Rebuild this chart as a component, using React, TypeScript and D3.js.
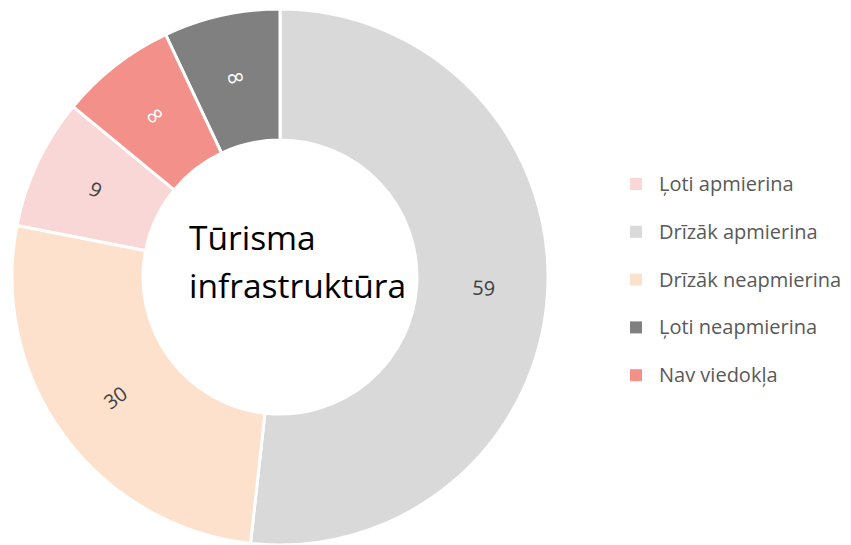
import React, { useEffect, useRef } from 'react';
import * as d3 from 'd3';

// legend order
const categories = ['Ļoti apmierina', 'Drīzāk apmierina', 'Drīzāk neapmierina', 'Ļoti neapmierina', 'Nav viedokļa'];
const values = [9, 59, 30, 8, 8];
const colors = ['#f9d7d6', '#d9d9d9', '#fde1cd', '#808080', '#f3908a'];
const labelColors = ['#404040', '#404040', '#404040', '#ffffff', '#ffffff'];
// order of slices clockwise from 12 o'clock
const sliceOrder = ['Drīzāk apmierina', 'Drīzāk neapmierina', 'Ļoti apmierina', 'Nav viedokļa', 'Ļoti neapmierina'];
const centerTitle = ['Tūrisma', 'infrastruktūra'];

function App() {
    const ref = useRef<SVGSVGElement>(null);

    useEffect(() => {
        drawChart();
    }, []);

    function drawChart() {
        const svgWidth = 851, svgHeight = 545;
        const cx = 280, cy = 277;
        const outerR = 268, innerR = 137;

        const svg = d3.select(ref.current)
            .attr('width', svgWidth)
            .attr('height', svgHeight);
        svg.selectAll('*').remove();

        const data = categories.map((c, i) => ({ name: c, value: values[i], color: colors[i], labelColor: labelColors[i] }));

        const pie = d3.pie<any>()
            .value(d => d.value)
            .sort((a, b) => sliceOrder.indexOf(a.name) - sliceOrder.indexOf(b.name));

        const arc = d3.arc<any>()
            .innerRadius(innerR)
            .outerRadius(outerR);

        const labelArc = d3.arc<any>()
            .innerRadius(204)
            .outerRadius(204);

        const g = svg.append('g')
            .attr('transform', 'translate(' + cx + ',' + cy + ')');

        const arcs = pie(data);

        g.selectAll('path.slice')
            .data(arcs)
            .enter()
            .append('path')
            .attr('class', 'slice')
            .attr('d', arc)
            .attr('fill', d => d.data.color)
            .attr('stroke', '#ffffff')
            .attr('stroke-width', 3);

        // labels rotated along the ring
        g.selectAll('text.val')
            .data(arcs)
            .enter()
            .append('text')
            .attr('class', 'val')
            .attr('transform', d => {
                const [x, y] = labelArc.centroid(d);
                let rot = ((d.startAngle + d.endAngle) / 2) * 180 / Math.PI - 90;
                if (rot > 90) rot -= 180;
                return 'translate(' + x + ',' + y + ') rotate(' + rot + ')';
            })
            .attr('text-anchor', 'middle')
            .attr('dy', '0.35em')
            .attr('font-family', 'Open Sans, sans-serif')
            .attr('font-size', 20)
            .attr('fill', d => d.data.labelColor)
            .text(d => d.data.value);

        // center title
        svg.append('g')
            .selectAll('text')
            .data(centerTitle)
            .enter()
            .append('text')
            .attr('x', 189)
            .attr('y', (d, i) => 250 + i * 48)
            .attr('font-family', 'Open Sans, sans-serif')
            .attr('font-size', 33.5)
            .attr('fill', '#000000')
            .text(d => d);

        // legend
        const legend = svg.append('g')
            .attr('transform', 'translate(630,184)');

        const item = legend.selectAll('g')
            .data(data)
            .enter()
            .append('g')
            .attr('transform', (d, i) => 'translate(0,' + (i * 47.8) + ')');

        item.append('rect')
            .attr('x', 0)
            .attr('y', -6)
            .attr('width', 12)
            .attr('height', 12)
            .attr('fill', d => d.color);

        item.append('text')
            .attr('x', 29)
            .attr('dy', '0.35em')
            .attr('font-family', 'Open Sans, sans-serif')
            .attr('font-size', 20)
            .attr('fill', '#595959')
            .text(d => d.name);
    }

    return (
        <div>
            <svg ref={ref} style={{ position: 'absolute', left: 0, top: 0, display: 'block' }}></svg>
        </div>
    );
}

export default App;
